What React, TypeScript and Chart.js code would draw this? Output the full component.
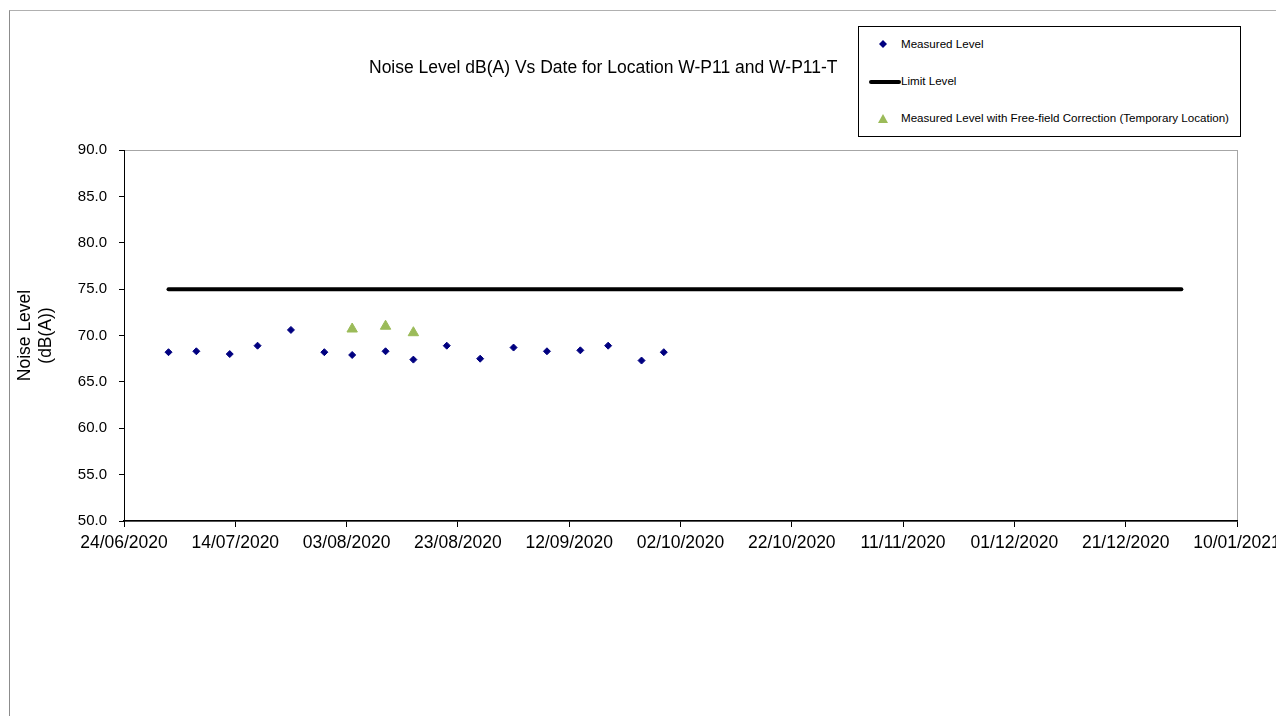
import React, { useEffect, useLayoutEffect, useRef } from 'react';
import { Chart, registerables } from 'chart.js';

Chart.register(...registerables);

// ---- data ----
const measuredDates = [
  '2020-07-02', '2020-07-07', '2020-07-13', '2020-07-18', '2020-07-24', '2020-07-30',
  '2020-08-04', '2020-08-10', '2020-08-15', '2020-08-21', '2020-08-27', '2020-09-02',
  '2020-09-08', '2020-09-14', '2020-09-19', '2020-09-25', '2020-09-29',
];
const measuredLevels = [68.2, 68.3, 68.0, 68.9, 70.6, 68.2, 67.9, 68.3, 67.4, 68.9, 67.5, 68.7, 68.3, 68.4, 68.9, 67.3, 68.2];

const correctedDates = ['2020-08-04', '2020-08-10', '2020-08-15'];
const correctedLevels = [70.7, 71.0, 70.3];

const limitDates = ['2020-07-02', '2020-12-31'];
const limitLevels = [75, 75];

const xMinDate = '2020-06-24';
const xMaxDate = '2021-01-10';
const xStepDays = 20;
const yMin = 50;
const yMax = 90;
const yStep = 5;

const titleText = 'Noise Level dB(A) Vs Date for Location W-P11 and W-P11-T';
const yTitleLines = ['Noise Level', '(dB(A))'];
const legendLabels = [
  'Measured Level',
  'Limit Level',
  'Measured Level with Free-field Correction (Temporary Location)',
];

// ---- helpers ----
const DAY = 86400000;
const toMs = (s: string) => Date.parse(s + 'T00:00:00Z');
const pad2 = (n: number) => (n < 10 ? '0' + n : '' + n);
const fmtDate = (v: number) => {
  const d = new Date(Math.round(v / DAY) * DAY);
  return pad2(d.getUTCDate()) + '/' + pad2(d.getUTCMonth() + 1) + '/' + d.getUTCFullYear();
};
const FONT = "'Liberation Sans', Arial, Helvetica, sans-serif";

const NAVY = '#000080';
const GREEN = '#9BBB59';

const CANVAS_W = 1268;
const CANVAS_H = 708;

const plotFrame = {
  id: 'plotFrame',
  beforeDraw(chart: any) {
    const { ctx, chartArea } = chart;
    const { left, top, right, bottom } = chartArea;
    ctx.save();
    ctx.strokeStyle = '#a6a6a6';
    ctx.lineWidth = 1;
    ctx.strokeRect(Math.round(left) + 0.5, Math.round(top) + 0.5, Math.round(right - left), Math.round(bottom - top));
    ctx.restore();
  },
};

export default function App() {
  const ref = useRef<HTMLCanvasElement | null>(null);

  useLayoutEffect(() => {
    document.documentElement.style.overflow = 'hidden';
    document.body.style.margin = '8px 0 0 8px';
  }, []);

  useEffect(() => {
    const canvas = ref.current;
    if (!canvas) return;
    const chart = new Chart(canvas, {
      type: 'scatter',
      data: {
        datasets: [
          {
            label: legendLabels[0],
            data: measuredDates.map((d, i) => ({ x: toMs(d), y: measuredLevels[i] })),
            pointStyle: 'rectRot',
            pointRadius: 3.5,
            pointHoverRadius: 3.5,
            backgroundColor: NAVY,
            borderColor: NAVY,
            borderWidth: 1,
            showLine: false,
          },
          {
            label: legendLabels[1],
            data: limitDates.map((d, i) => ({ x: toMs(d), y: limitLevels[i] })),
            showLine: true,
            borderColor: '#000000',
            backgroundColor: '#000000',
            borderWidth: 4,
            borderCapStyle: 'round',
            pointRadius: 0,
            pointHoverRadius: 0,
          },
          {
            label: legendLabels[2],
            data: correctedDates.map((d, i) => ({ x: toMs(d), y: correctedLevels[i] })),
            pointStyle: 'triangle',
            pointRadius: 6,
            pointHoverRadius: 6,
            backgroundColor: GREEN,
            borderColor: GREEN,
            borderWidth: 1,
            showLine: false,
          },
        ],
      } as any,
      options: {
        animation: false,
        responsive: false,
        devicePixelRatio: 1,
        events: [],
        layout: { padding: { left: 0, top: 142, right: CANVAS_W - 1229, bottom: CANVAS_H - 513 - 60 } },
        plugins: {
          legend: { display: false },
          title: { display: false },
          tooltip: { enabled: false },
        },
        scales: {
          x: {
            type: 'linear',
            position: 'bottom',
            min: toMs(xMinDate),
            max: toMs(xMaxDate),
            afterFit(s: any) {
              s.height = 60;
              s.paddingLeft = 0;
              s.paddingRight = 0;
            },
            ticks: {
              stepSize: xStepDays * DAY,
              autoSkip: false,
              maxRotation: 0,
              minRotation: 0,
              padding: 6,
              color: '#000',
              font: { family: FONT, size: 17.5 },
              callback: (v: any) => fmtDate(Number(v)),
            },
            grid: { display: true, drawOnChartArea: false, drawTicks: true, tickLength: 6, color: '#000' },
            border: { display: true, color: '#000', width: 1.5 },
          },
          y: {
            min: yMin,
            max: yMax,
            afterFit(s: any) {
              s.width = 116;
              s.paddingTop = 0;
              s.paddingBottom = 0;
            },
            ticks: {
              stepSize: yStep,
              padding: 12,
              color: '#000',
              font: { family: FONT, size: 15 },
              callback: (v: any) => Number(v).toFixed(1),
            },
            grid: { display: true, drawOnChartArea: false, drawTicks: true, tickLength: 5, color: '#000' },
            border: { display: true, color: '#000', width: 1 },
            title: {
              display: true,
              text: yTitleLines,
              color: '#000',
              font: { family: FONT, size: 17.5, lineHeight: 1.2 },
              padding: { top: 7, bottom: 0 },
            },
          },
        },
      } as any,
      plugins: [plotFrame],
    });
    return () => chart.destroy();
  }, []);

  const rowStyle = (center: number): React.CSSProperties => ({
    position: 'absolute',
    left: 42,
    top: center - 8,
    height: 16,
    lineHeight: '16px',
    whiteSpace: 'nowrap',
  });

  return (
    <div style={{ position: 'relative', width: 1268, height: 708, overflow: 'hidden', fontFamily: FONT, color: '#000' }}>
      <div
        style={{
          position: 'absolute',
          left: 1,
          top: 2,
          width: 1320,
          height: 720,
          borderTop: '1px solid #b0b0b0',
          borderLeft: '1px solid #8c8c8c',
        }}
      />
      <canvas
        ref={ref}
        width={CANVAS_W}
        height={CANVAS_H}
        style={{ position: 'absolute', left: 0, top: 0, display: 'block', width: CANVAS_W, height: CANVAS_H }}
      />
      <div
        style={{
          position: 'absolute',
          left: 361,
          top: 49,
          fontSize: 17.5,
          lineHeight: '20px',
          whiteSpace: 'nowrap',
        }}
      >
        {titleText}
      </div>
      <div
        style={{
          position: 'absolute',
          left: 850,
          top: 18,
          width: 383,
          height: 111,
          boxSizing: 'border-box',
          border: '1px solid #000',
          background: '#fff',
          fontSize: 11.6,
        }}
      >
        <svg width={10} height={10} style={{ position: 'absolute', left: 19, top: 12 }}>
          <polygon points="5,1 9,5 5,9 1,5" fill={NAVY} />
        </svg>
        <div style={rowStyle(17)}>{legendLabels[0]}</div>
        <div
          style={{
            position: 'absolute',
            left: 10,
            top: 53,
            width: 32,
            height: 3.5,
            background: '#000',
            borderRadius: 2,
          }}
        />
        <div style={rowStyle(54)}>{legendLabels[1]}</div>
        <svg width={12} height={11} style={{ position: 'absolute', left: 18, top: 86 }}>
          <polygon points="6,1 11,10 1,10" fill={GREEN} />
        </svg>
        <div style={rowStyle(91)}>{legendLabels[2]}</div>
      </div>
    </div>
  );
}
